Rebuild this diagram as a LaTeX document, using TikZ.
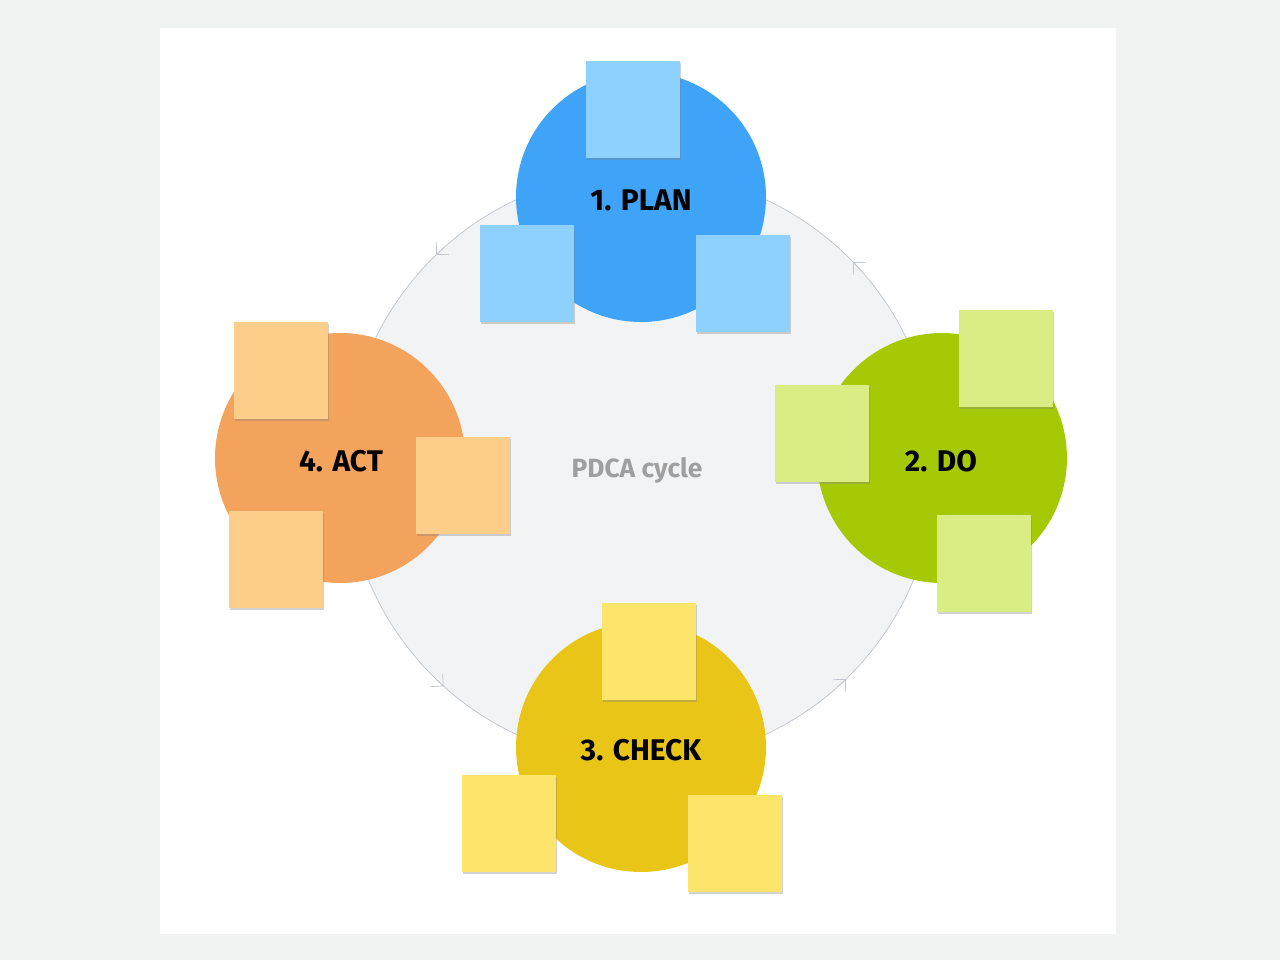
\documentclass[tikz,border=0pt]{standalone}
\usepackage{fontspec}
\setmainfont{Fira Sans}
\usetikzlibrary{arrows.meta,shadows}
\definecolor{PageGray}{HTML}{F1F2F2}
\definecolor{RingFill}{HTML}{F2F3F5}
\definecolor{RingLine}{HTML}{C0C4CC}
\definecolor{PlanBlue}{HTML}{3FA3F7}
\definecolor{PlanNote}{HTML}{8ED0FE}
\definecolor{DoGreen}{HTML}{A6C905}
\definecolor{DoNote}{HTML}{DAED84}
\definecolor{CheckYellow}{HTML}{E8C516}
\definecolor{CheckNote}{HTML}{FDE46A}
\definecolor{ActOrange}{HTML}{F3A35B}
\definecolor{ActNote}{HTML}{FDCD8A}

\begin{document}
\begin{tikzpicture}[
      x=0.02cm, y=-0.02cm,
      every node/.style={align=center},
      phase/.style={circle, minimum size=5cm, inner sep=0pt},
      label/.style={font=\bfseries\fontsize{17}{20}\selectfont},
      note/.style={anchor=north west, minimum width=1.88cm, minimum height=1.94cm, inner sep=0pt,
        drop shadow={shadow xshift=0.6pt, shadow yshift=-0.9pt, opacity=0.35}},
      cyc/.style={RingLine, thin, -{Straight Barb[length=5pt, width=10pt]}}
    ]
      % Background
      \fill[PageGray] (0,0) rectangle (1280,960);
      \fill[white] (160,28) rectangle (1116,934);
      % Ring
      \node[circle, draw=RingLine, fill=RingFill, minimum size=11.8cm, inner sep=0pt] (ring) at (641,467) {};
      \foreach \a in {47,-43,-133,133}
        \draw[cyc] ([shift={(\a+1:295)}]641,467) arc[start angle=\a+1, end angle=\a-1, radius=295];
      \node[font=\bfseries\fontsize{15}{18}\selectfont, text=gray!75] (title) at (637,470) {PDCA cycle};
      % Phases
      \node[phase, fill=PlanBlue] (plan) at (641,197) {};
      \node[phase, fill=DoGreen] (do) at (942,458) {};
      \node[phase, fill=CheckYellow] (check) at (641,747) {};
      \node[phase, fill=ActOrange] (act) at (340,458) {};
      % Sticky notes
      \node[note, fill=PlanNote] (plan1) at (586,61) {};
      \node[note, fill=PlanNote] (plan2) at (480,225) {};
      \node[note, fill=PlanNote] (plan3) at (696,235) {};
      \node[note, fill=DoNote] (do1) at (959,310) {};
      \node[note, fill=DoNote] (do2) at (775,385) {};
      \node[note, fill=DoNote] (do3) at (937,515) {};
      \node[note, fill=CheckNote] (check1) at (602,603) {};
      \node[note, fill=CheckNote] (check2) at (462,775) {};
      \node[note, fill=CheckNote] (check3) at (688,795) {};
      \node[note, fill=ActNote] (act1) at (234,322) {};
      \node[note, fill=ActNote] (act2) at (416,437) {};
      \node[note, fill=ActNote] (act3) at (229,511) {};
      % Phase labels
      \node[label] (planlabel) at (641,200) {1. PLAN};
      \node[label] (dolabel) at (941,461) {2. DO};
      \node[label] (checklabel) at (641,750) {3. CHECK};
      \node[label] (actlabel) at (341,461) {4. ACT};
    \end{tikzpicture}
\end{document}
